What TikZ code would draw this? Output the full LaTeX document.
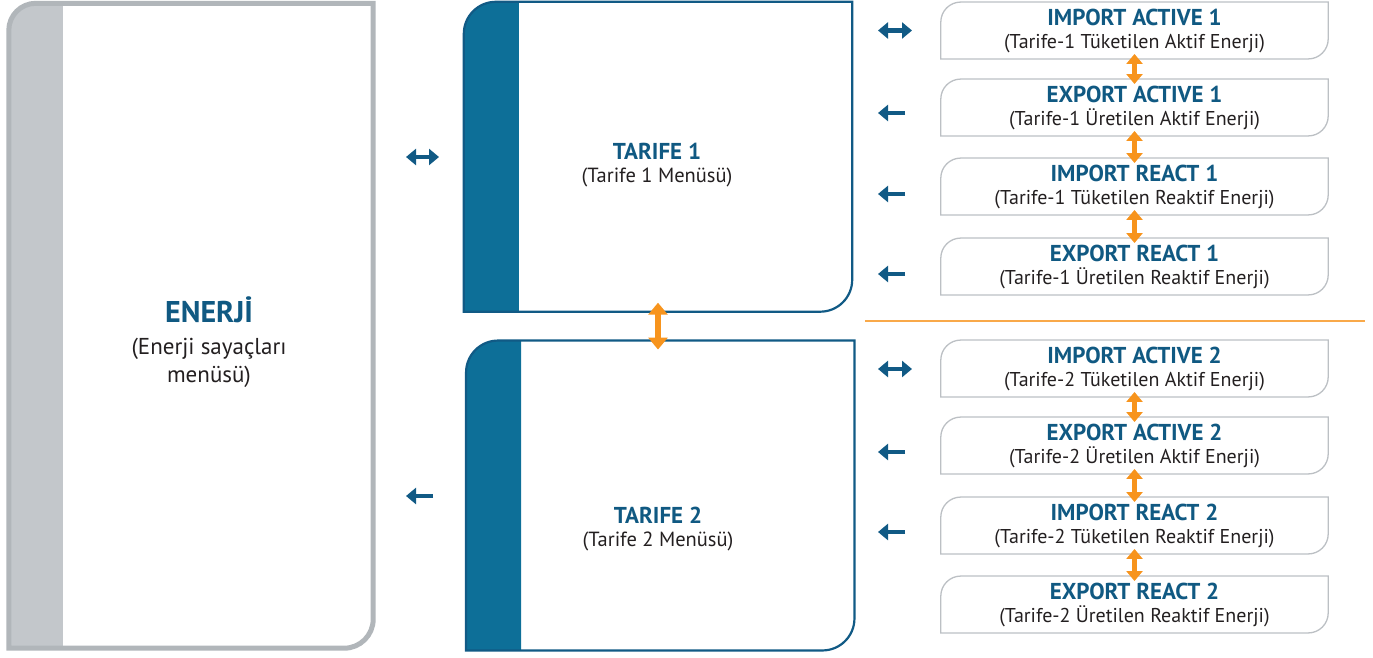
\documentclass[tikz,border=0pt]{standalone}
\usepackage{fontspec}
\setmainfont{PT Sans}
\usetikzlibrary{arrows.meta}

\definecolor{titleblue}{RGB}{16,89,130}
\definecolor{bandblue}{RGB}{13,111,152}
\definecolor{lineblue}{RGB}{17,90,133}
\definecolor{bandgray}{RGB}{195,199,203}
\definecolor{linegray}{RGB}{177,182,186}
\definecolor{boxgray}{RGB}{188,192,196}
\definecolor{arroworange}{RGB}{247,148,29}
\definecolor{textdark}{RGB}{35,31,32}

\tikzset{
  smallbox/.style={minimum width=387pt, minimum height=56.5pt, inner sep=0pt, align=center,
    font=\fontsize{20}{23}\selectfont, text=textdark},
  smallline/.style={draw=boxgray, line width=1.3pt},
  tarifbox/.style={minimum width=388pt, minimum height=309.5pt, inner sep=0pt},
  tarifline/.style={draw=lineblue, line width=2.2pt},
  bluearrow/.style={draw=lineblue, line width=4.5pt, -{Triangle[length=10pt,width=16pt]}},
  bluedouble/.style={draw=lineblue, line width=4.5pt, {Triangle[length=10pt,width=16pt]}-{Triangle[length=10pt,width=16pt]}},
  orangearrow/.style={draw=arroworange, line width=4.5pt, shorten <=-5pt, shorten >=-5pt,
    {Triangle[length=10pt,width=16pt]}-{Triangle[length=10pt,width=16pt]}}
}

\newcommand{\boxtitle}[1]{{\fontsize{23}{23}\selectfont\bfseries\color{titleblue}#1}}

\begin{document}
\begin{tikzpicture}[x=1pt,y=1pt]
    \useasboundingbox (0,0) rectangle (1373,657);

    % energy menu
    \node[minimum width=364pt, minimum height=644.5pt, inner sep=0pt] (enerji) at (191,331.25) {};
    \fill[bandgray] (enerji.south west) -- ([yshift=-27pt]enerji.north west) arc[start angle=180, end angle=90, radius=27pt]
        -- ([xshift=54pt]enerji.north west) -- ([xshift=54pt]enerji.south west) -- cycle;
    \draw[draw=linegray, line width=5pt] (enerji.south west) -- ([yshift=-27pt]enerji.north west) arc[start angle=180, end angle=90, radius=27pt]
        -- (enerji.north east) -- ([yshift=29pt]enerji.south east) arc[start angle=0, end angle=-90, radius=29pt] -- cycle;
    \node[align=center, text=textdark, font=\fontsize{23}{28}\selectfont] (enerjitxt) at (209,315)
        {{\fontsize{30}{28}\selectfont\bfseries\color{titleblue}ENERJİ}\\[4pt] (Enerji sayaçları\\ menüsü)};

    % tariff menus
    \node[tarifbox] (t1) at (658,500.25) {};
    \node[tarifbox] (t2) at (660.25,161.5) {};
    \foreach \t in {t1,t2} {
        \fill[bandblue] (\t.south west) -- ([yshift=-32pt]\t.north west) arc[start angle=180, end angle=90, radius=32pt]
            -- ([xshift=55pt]\t.north west) -- ([xshift=55pt]\t.south west) -- cycle;
        \draw[tarifline] (\t.south west) -- ([yshift=-32pt]\t.north west) arc[start angle=180, end angle=90, radius=32pt]
            -- (\t.north east) -- ([yshift=32pt]\t.south east) arc[start angle=0, end angle=-90, radius=32pt] -- cycle;
    }
    \node[align=center, text=textdark, font=\fontsize{20.5}{23}\selectfont] (t1txt) at (657,492)
        {\boxtitle{TARIFE 1}\\ (Tarife 1 Menüsü)};
    \node[align=center, text=textdark, font=\fontsize{20.5}{23}\selectfont] (t2txt) at (658,127.5)
        {\boxtitle{TARIFE 2}\\ (Tarife 2 Menüsü)};
    \draw[orangearrow, line width=5.5pt, shorten <=-9pt, shorten >=-9pt,
        {Triangle[length=12pt,width=19pt]}-{Triangle[length=12pt,width=19pt]}] (t1.south) -- (t1.south |- t2.north);

    % energy registers
    \node[smallbox] (ia1) at (1134.5,626.5) {\boxtitle{IMPORT ACTIVE 1}\\ (Tarife-1 Tüketilen Aktif Enerji)};
    \node[smallbox] (ea1) at (1134.5,549.5) {\boxtitle{EXPORT ACTIVE 1}\\ (Tarife-1 Üretilen Aktif Enerji)};
    \node[smallbox] (ir1) at (1134.5,470.5) {\boxtitle{IMPORT REACT 1}\\ (Tarife-1 Tüketilen Reaktif Enerji)};
    \node[smallbox] (er1) at (1134.5,390.5) {\boxtitle{EXPORT REACT 1}\\ (Tarife-1 Üretilen Reaktif Enerji)};
    \node[smallbox] (ia2) at (1134.5,288.5) {\boxtitle{IMPORT ACTIVE 2}\\ (Tarife-2 Tüketilen Aktif Enerji)};
    \node[smallbox] (ea2) at (1134.5,211.5) {\boxtitle{EXPORT ACTIVE 2}\\ (Tarife-2 Üretilen Aktif Enerji)};
    \node[smallbox] (ir2) at (1134.5,131.5) {\boxtitle{IMPORT REACT 2}\\ (Tarife-2 Tüketilen Reaktif Enerji)};
    \node[smallbox] (er2) at (1134.5,52.5) {\boxtitle{EXPORT REACT 2}\\ (Tarife-2 Üretilen Reaktif Enerji)};
    \foreach \n in {ia1,ea1,ir1,er1,ia2,ea2,ir2,er2}
        \draw[smallline] (\n.south west) -- ([yshift=-20pt]\n.north west) arc[start angle=180, end angle=90, radius=20pt]
            -- (\n.north east) -- ([yshift=20pt]\n.south east) arc[start angle=0, end angle=-90, radius=20pt] -- cycle;
    \foreach \a/\b in {ia1/ea1,ea1/ir1,ir1/er1,ia2/ea2,ea2/ir2,ir2/er2}
        \draw[orangearrow] (\a.south) -- (\b.north);

    % separator
    \draw[draw=arroworange!80, line width=1.2pt] (865,336) -- (1365,336);

    % navigation arrows
    \draw[bluedouble] (406,500) -- (439,500);
    \draw[bluearrow] (433,161) -- (406,161);
    \foreach \y in {626.5,288}
        \draw[bluedouble] (878,\y) -- (912,\y);
    \foreach \y in {544,463,383,205,125}
        \draw[bluearrow] (905,\y) -- (878,\y);
\end{tikzpicture}
\end{document}
